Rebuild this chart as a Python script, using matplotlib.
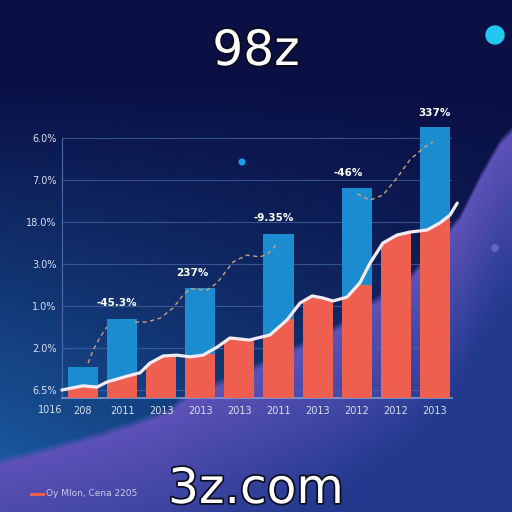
import numpy as np
import matplotlib
matplotlib.use("Agg")
import matplotlib.pyplot as plt
import matplotlib.patheffects as pe
from matplotlib.patches import Polygon, Circle
from matplotlib.colors import to_rgb
from matplotlib.transforms import blended_transform_factory

# chart data
years = ["208", "2011", "2013", "2013", "2013", "2011", "2013", "2012", "2012", "2013"]
blue_vals = [0.74, 1.88, 0, 2.62, 0, 3.90, 0, 5.00, 0, 6.45]
red_vals = [0.29, 0.58, 1.02, 1.05, 1.50, 1.87, 2.43, 2.70, 3.95, 4.40]

ytick_pos = [0.18, 1.18, 2.18, 3.18, 4.18, 5.18, 6.18]
ytick_labels = ["6.5%", "2.0%", "1.0%", "3.0%", "18.0%", "7.0%", "6.0%"]

# white wave along the red bars
wave_x = [-0.54, 0.0, 0.36, 0.61, 1.13, 1.46, 1.71, 2.05, 2.40, 2.74, 3.07, 3.43,
          3.76, 4.25, 4.78, 5.22, 5.55, 5.86, 6.14, 6.39, 6.75, 7.08, 7.34, 7.67,
          8.03, 8.36, 8.80, 9.13, 9.39, 9.57]
wave_y = [0.19, 0.29, 0.26, 0.38, 0.52, 0.60, 0.83, 1.00, 1.02, 0.98, 1.02, 1.21,
          1.43, 1.38, 1.50, 1.86, 2.26, 2.43, 2.38, 2.31, 2.40, 2.74, 3.21, 3.69,
          3.88, 3.95, 4.00, 4.17, 4.36, 4.64]

# dashed trend pieces over the blue bars
trend_x = [[0.13, 0.26, 0.44, 0.61],
           [1.33, 1.64, 1.97, 2.30, 2.56, 2.74, 3.17, 3.43, 3.84, 4.19, 4.53, 4.73, 4.96],
           [7.01, 7.34, 7.67, 8.03, 8.36, 8.70, 8.95]]
trend_y = [[0.83, 1.14, 1.45, 1.69],
           [1.81, 1.81, 1.90, 2.14, 2.45, 2.60, 2.57, 2.74, 3.24, 3.40, 3.36, 3.43, 3.67],
           [4.86, 4.71, 4.83, 5.24, 5.67, 5.95, 6.10]]

notes = ["-45.3%", "237%", "-9.35%", "-46%", "337%"]
note_x = [0.87, 2.79, 4.88, 6.78, 9.00]
note_y = [2.26, 2.98, 4.29, 5.36, 6.79]

title = "98z"
footer = "3z.com"
legend_text = "Oy Mlon, Cena 2205"

# background hill edge (pixel space)
edge_x = [0, 50, 100, 140, 167, 187, 250, 330, 410, 440, 460, 480, 500, 512]
edge_y = [460, 447, 433, 420, 410, 395, 368, 330, 275, 240, 215, 175, 140, 128]

RED = "#ef5f50"
BLUE = "#1a8ccf"

fig = plt.figure(figsize=(5.12, 5.12), dpi=100)

# background
bg = fig.add_axes([0, 0, 1, 1], zorder=0)
yy, xx = np.mgrid[0:512, 0:512] / 512.0
navy = np.array(to_rgb("#0a0f44"))
sky = np.array(to_rgb("#1a5aa0"))
a = np.clip((yy - 0.15) * 1.3 * (1 - 0.7 * xx), 0, 1)[..., None]
base = navy * (1 - a) + sky * a

lilac = np.array(to_rgb("#5f53b9"))
deep = np.array(to_rgb("#22398e"))
edge = np.interp(np.arange(512), edge_x, edge_y)
depth = np.arange(512)[:, None] - edge[None, :]
b = np.clip(depth / 170.0, 0, 1)[..., None]
hillcol = lilac * (1 - b) + deep * b
# soft edge: blend over a few pixels
m = np.clip((depth + 3) / 8.0, 0, 1)[..., None]
bg.imshow(base * (1 - m) + hillcol * m, extent=(0, 512, 512, 0))

bg.add_patch(Circle((495, 35), 9, color="#22c8f0"))
bg.add_patch(Circle((242, 162), 2.8, color="#1ea0e8"))
bg.add_patch(Circle((495, 248), 3.2, color="#6a62c0"))

outline = [pe.withStroke(linewidth=2.5, foreground="#0c0c1c")]
bg.text(256, 65, title, fontsize=35, color="white", ha="center", va="baseline",
        path_effects=outline)
bg.text(256, 503, footer, fontsize=35, color="white", ha="center", va="baseline",
        path_effects=outline)
bg.plot([31, 43], [494, 494], color=RED, lw=2.2)
bg.text(46, 494, legend_text, fontsize=6.5, color="#c5cbe6", va="center")

bg.set_xlim(0, 512)
bg.set_ylim(512, 0)
bg.axis("off")

# chart
ax = fig.add_axes([62 / 512, 114 / 512, 390 / 512, 298 / 512], zorder=2)
ax.patch.set_alpha(0)
x = np.arange(len(years))
ax.bar(x, blue_vals, width=0.77, color=BLUE, zorder=2)
reds = ax.bar(x, red_vals, width=0.77, color=RED, zorder=3)

under = Polygon(np.column_stack([wave_x + [wave_x[-1], wave_x[0]],
                                 wave_y + [0, 0]]),
                closed=True, facecolor="none", edgecolor="none",
                transform=ax.transData)
ax.add_patch(under)
for r in reds:
    r.set_clip_path(under)

ax.plot(wave_x, wave_y, color="#f4eaf2", lw=2.3, zorder=4, clip_on=False,
        solid_capstyle="round")

for tx, ty in zip(trend_x, trend_y):
    ax.plot(tx, ty, color="#c9a27a", lw=1.0, ls=(0, (3, 2.5)), zorder=5)

for s, nx, ny in zip(notes, note_x, note_y):
    ax.text(nx, ny, s, fontsize=7.5, fontweight="bold", color="white",
            ha="center", va="center", zorder=6)

ax.set_xlim(-0.537, 9.437)
ax.set_ylim(0, 7.095)
ax.set_xticks(x)
ax.set_xticklabels(years)
ax.set_yticks(ytick_pos)
ax.set_yticklabels(ytick_labels)
ax.tick_params(length=0, labelsize=7, labelcolor="#d8e0f0")
ax.tick_params(axis="x", pad=6)
ax.tick_params(axis="y", pad=4)
trans = blended_transform_factory(ax.transData, ax.transAxes)
ax.text(-0.84, -0.04, "1016", fontsize=7, color="#d8e0f0", ha="center",
        va="center", transform=trans, clip_on=False)

ax.grid(axis="y", color="#4a6aa8", lw=0.8, alpha=0.7, zorder=1)
ax.set_axisbelow(True)
for side in ["top", "right"]:
    ax.spines[side].set_visible(False)
ax.spines["left"].set_color("#4a6aa8")
ax.spines["left"].set_linewidth(0.8)
ax.spines["left"].set_bounds(0, ytick_pos[-1])
ax.spines["bottom"].set_color("#7f9bd6")
ax.spines["bottom"].set_linewidth(1.2)

fig.savefig("out.png", dpi=100)
